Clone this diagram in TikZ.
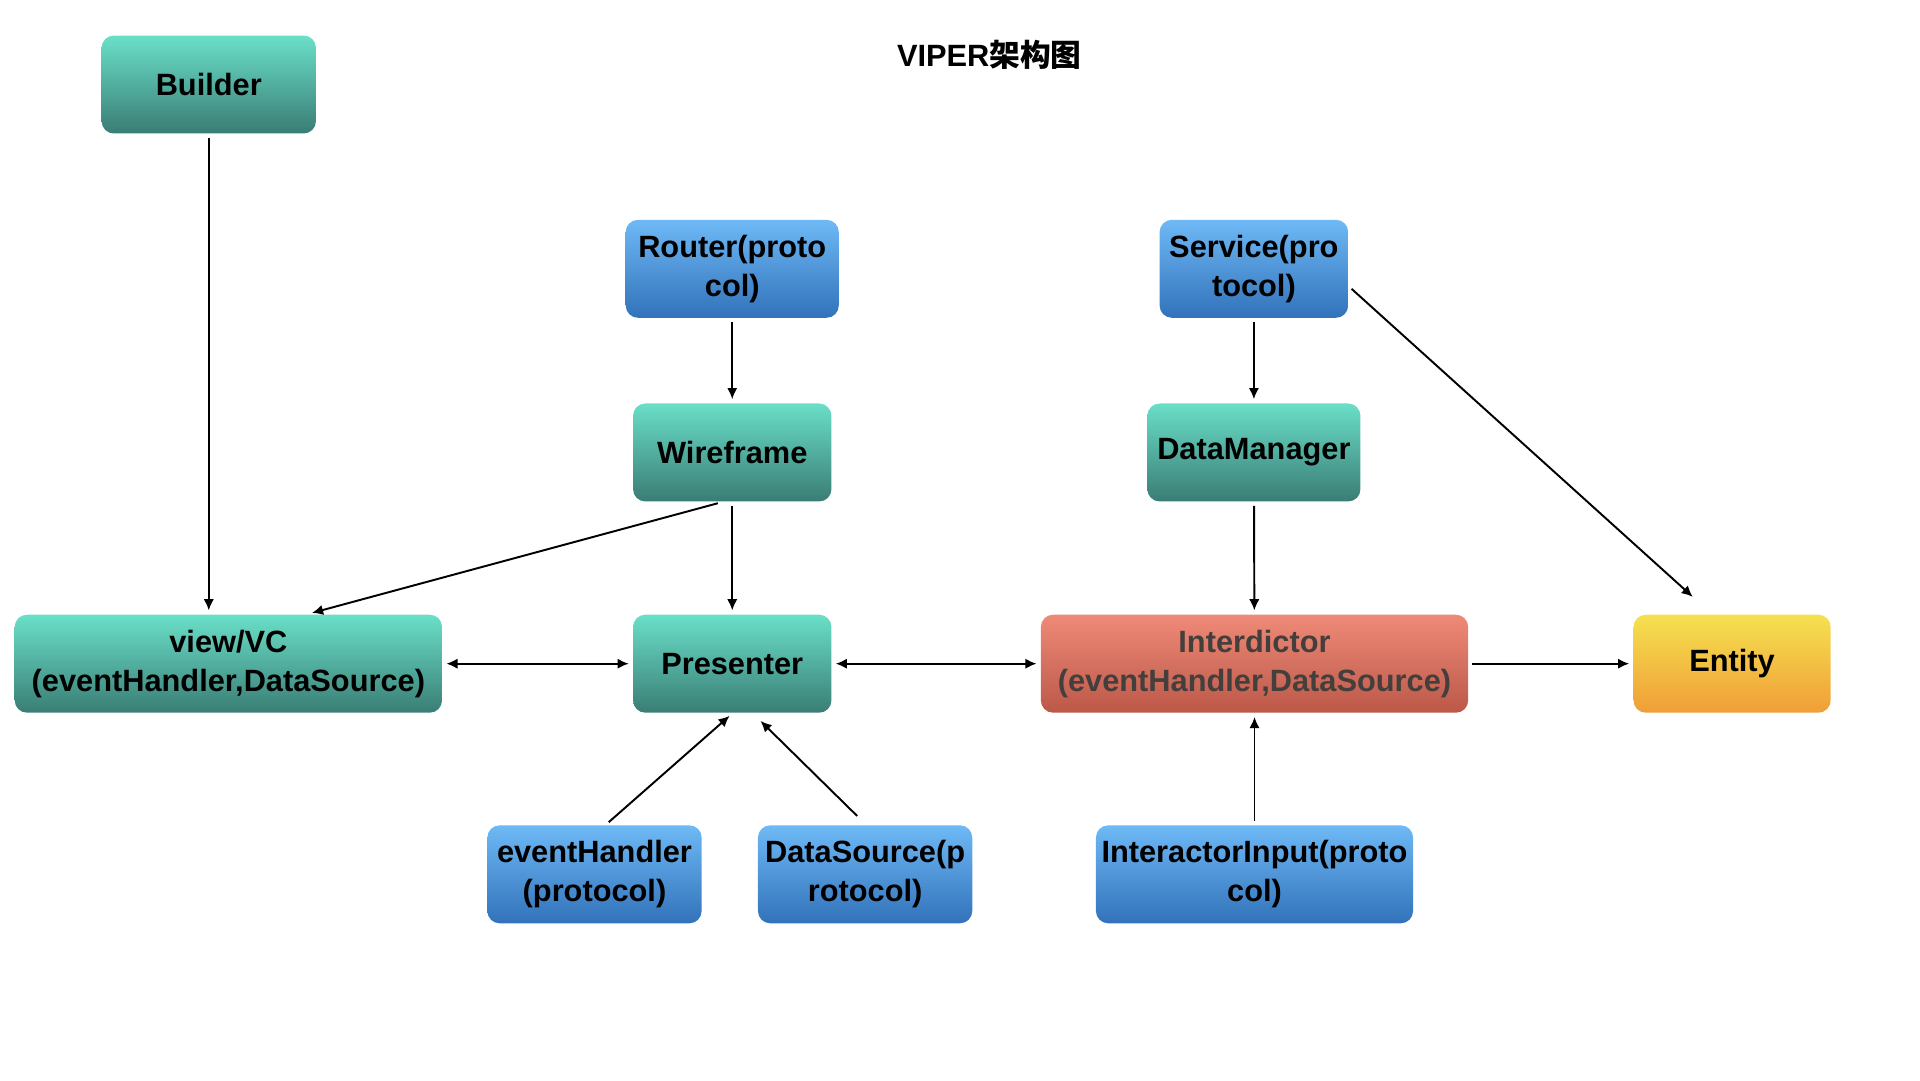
\documentclass[tikz,border=0pt]{standalone}
\usepackage{fontspec}
\setmainfont{Liberation Sans}
\newfontfamily\cjk{Noto Sans CJK SC}
\usetikzlibrary{arrows.meta}
\definecolor{tealtop}{RGB}{106,223,200}
\definecolor{tealbot}{RGB}{58,125,117}
\definecolor{bluetop}{RGB}{110,185,246}
\definecolor{bluebot}{RGB}{50,114,186}
\definecolor{redtop}{RGB}{239,138,120}
\definecolor{redbot}{RGB}{188,88,72}
\definecolor{yeltop}{RGB}{245,225,80}
\definecolor{yelbot}{RGB}{240,158,55}
\definecolor{greytext}{RGB}{68,62,60}
\tikzset{
  box/.style={rounded corners=0.1cm, inner sep=0pt, align=center, minimum height=0.8cm,
    font=\fontsize{7.15}{9.1}\selectfont\bfseries},
  tealbox/.style={box, top color=tealtop, bottom color=tealbot},
  bluebox/.style={box, top color=bluetop, bottom color=bluebot},
  redbox/.style={box, top color=redtop, bottom color=redbot, text=greytext},
  yelbox/.style={box, top color=yeltop, bottom color=yelbot},
  link/.style={line width=0.45pt, -{Latex[length=2.6pt,width=2.4pt]}, shorten >=0.8pt, shorten <=0.8pt},
  twoway/.style={link, {Latex[length=2.6pt,width=2.4pt]}-{Latex[length=2.6pt,width=2.4pt]}}
}
\begin{document}
\begin{tikzpicture}
\useasboundingbox (0,0) rectangle (15.68,-8.82);
% title
\node (title) at (8.08,-0.45) {\fontsize{7.15}{9}\selectfont\bfseries VIPER{\cjk 架构图}};
% boxes
\node[tealbox, minimum width=1.75cm] (builder) at (1.705,-0.69) {Builder};
\node[bluebox, minimum width=1.74cm] (router) at (5.98,-2.195) {Router(proto\\col)};
\node[bluebox, minimum width=1.54cm] (service) at (10.24,-2.195) {Service(pro\\tocol)};
\node[tealbox, minimum width=1.62cm] (wire) at (5.98,-3.695) {Wireframe};
\node[tealbox, minimum width=1.74cm] (dataman) at (10.24,-3.695) {DataManager};
\node[tealbox, minimum width=3.49cm] (view) at (1.865,-5.42) {view/VC\\(eventHandler,DataSource)};
\node[tealbox, minimum width=1.62cm] (presenter) at (5.98,-5.42) {Presenter};
\node[redbox, minimum width=3.49cm] (interd) at (10.245,-5.42) {Interdictor\\(eventHandler,DataSource)};
\node[yelbox, minimum width=1.61cm] (entity) at (14.145,-5.42) {Entity};
\node[bluebox, minimum width=1.75cm] (evh) at (4.855,-7.14) {eventHandler\\(protocol)};
\node[bluebox, minimum width=1.75cm] (dsrc) at (7.065,-7.14) {DataSource(p\\rotocol)};
\node[bluebox, minimum width=2.59cm] (input) at (10.245,-7.14) {InteractorInput(proto\\col)};
% links
\draw[link] (builder) -- (view.north -| builder);
\draw[link] (router) -- (wire);
\draw[link] (service) -- (dataman);
\draw[link] ([yshift=-0.145cm]service.east) -- ([xshift=-0.3cm,yshift=0.12cm]entity.north);
\draw[link] ([xshift=-0.09cm]wire.south) -- ([xshift=0.655cm]view.north);
\draw[link] (wire) -- (presenter);
\draw[link] (dataman) -- (interd);
\draw[twoway] (view) -- (presenter);
\draw[twoway] (presenter) -- (interd);
\draw[link] (interd) -- (entity);
\draw[link] ([xshift=0.095cm]evh.north) -- (presenter.south);
\draw[link] ([xshift=-0.045cm,yshift=0.05cm]dsrc.north) -- ([xshift=0.21cm,yshift=-0.04cm]presenter.south);
\draw[link] (input) -- (interd);
\end{tikzpicture}
\end{document}
